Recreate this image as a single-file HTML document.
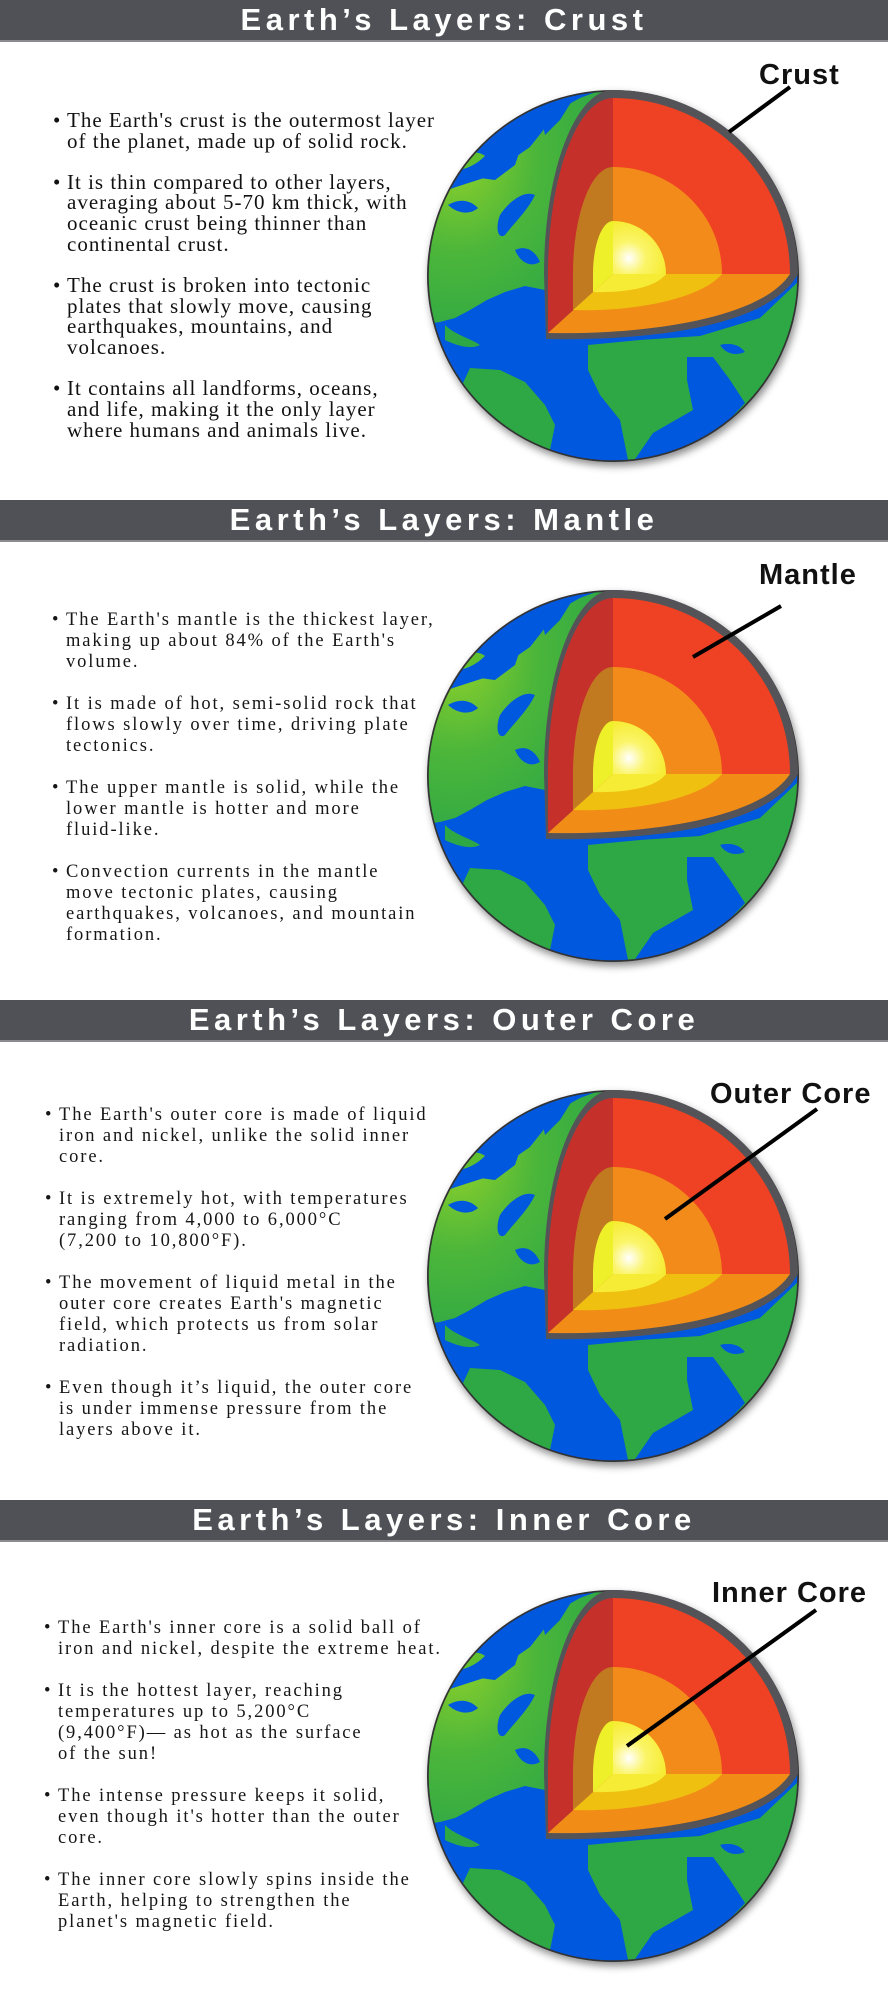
<!DOCTYPE html>
<html><head><meta charset="utf-8">
<style>
*{margin:0;padding:0;box-sizing:border-box}
body{width:888px;height:2000px;background:#fff;position:relative;overflow:hidden;font-family:"Liberation Serif",serif;color:#111}
.sec{position:absolute;left:0;width:888px;height:500px}
.hdr{position:absolute;left:0;top:0;width:888px;height:42px;background:#505156;border-bottom:2px solid #8c8c90;color:#fff;text-align:center;font-family:"Liberation Sans",sans-serif;font-weight:bold;font-size:31px;letter-spacing:4.5px;line-height:40px}
.txt{position:absolute}
.txt p{position:relative;margin-bottom:21px;white-space:nowrap}
.txt .b{position:absolute}
.t1{left:67px;top:110px;font-size:21px;line-height:20.8px;letter-spacing:1px}
.t1 p{margin-bottom:20px}
.t1 .b{left:-14px}
.t2{font-size:18.5px;letter-spacing:1.9px;line-height:21px;color:#161616}
.t2 .b{left:-14px}
.lbl{position:absolute;font-family:"Liberation Sans",sans-serif;font-weight:bold;font-size:29px;letter-spacing:1px;color:#111;line-height:1}
svg.g{position:absolute;left:0;top:0}
</style></head><body>
<svg width="0" height="0" style="position:absolute">
<defs>
<radialGradient id="land" cx="0.2" cy="0.3" r="0.8"><stop offset="0" stop-color="#8fd12a"/><stop offset="0.5" stop-color="#4cb63a"/><stop offset="1" stop-color="#2ea845"/></radialGradient>
<radialGradient id="core" cx="0.3" cy="0.7" r="0.9"><stop offset="0" stop-color="#ffffff"/><stop offset="0.35" stop-color="#fbf56a"/><stop offset="1" stop-color="#f4e81a"/></radialGradient>
<clipPath id="gc"><circle cx="613" cy="276" r="185"/></clipPath>
<filter id="sh" x="-20%" y="-20%" width="140%" height="140%"><feDropShadow dx="2" dy="4" stdDeviation="4" flood-color="#000" flood-opacity="0.45"/></filter>
<g id="globe">
<g filter="url(#sh)">
<circle cx="613" cy="276" r="186" fill="#3a3a3e"/>
</g>
<g clip-path="url(#gc)">
<rect x="420" y="80" width="400" height="400" fill="#0058de"/>
<path d="M420,200 L453,188 L487,177 L507,163 L530,147 L545,128 L555,112 L580,98 L612,86 L612,280 L560,280 L545,290 L525,286 L505,292 L487,300 L470,310 L455,318 L440,322 L420,325 Z" fill="url(#land)"/>
<path d="M540,110 L560,100 L575,96 L560,120 L545,135 Z" fill="#0058de"/>
<path d="M480,178 C495,165 505,160 520,150 L515,165 L495,180 Z" fill="#0058de"/>
<path d="M500,215 C510,200 525,190 535,195 C528,210 515,222 505,235 C498,240 495,228 500,215 Z" fill="#0058de"/>
<path d="M448,205 C460,198 470,200 478,208 C470,215 458,214 448,205 Z" fill="#0058de"/>
<path d="M515,250 C525,245 535,250 540,262 C530,268 520,262 515,250 Z" fill="#0058de"/>
<path d="M470,130 C480,118 495,112 505,118 C498,128 485,140 470,145 Z" fill="#5fbf2e"/>
<path d="M500,105 C510,98 525,96 535,100 C525,110 512,118 500,120 Z" fill="#5fbf2e"/>
<path d="M455,160 C465,152 478,150 485,156 C476,165 465,170 455,170 Z" fill="#5fbf2e"/>
<path d="M470,368 L500,370 L525,382 L545,405 L555,425 L550,450 L535,470 L480,470 L460,440 L455,400 Z" fill="#2ea845"/>
<path d="M445,325 C455,335 470,338 480,345 C470,350 455,345 445,340 Z" fill="#2ea845"/>
<path d="M588,345 L640,340 L700,336 L760,318 L800,280 L810,470 L630,470 L620,420 L600,395 L588,370 Z" fill="#2ea845"/>
<path d="M687,357 L713,357 L730,380 L745,403 L710,440 L673,453 L633,462 L653,433 L693,410 L687,380 Z" fill="#0058de"/>
<path d="M720,345 C730,342 740,345 745,352 C735,356 726,354 720,345 Z" fill="#0058de"/>
</g>
<circle cx="613" cy="276" r="185" fill="none" stroke="#333" stroke-width="1.5"/>
<path d="M613,90 A185,184 0 0 1 798,274 C768,328 645,341 546,339 L544,274 A69,184 0 0 1 613,90 Z" fill="#545458"/>
<path d="M613,274 L613,98 A65,176 0 0 0 548,274 L548,333 Z" fill="#c6302a"/>
<path d="M613,274 L613,167 A40,107 0 0 0 573,274 L573,310 Z" fill="#c27a20"/>
<path d="M613,274 L613,221 A20,53 0 0 0 593,274 L593,292 Z" fill="#eef02a"/>
<path d="M613,274 L790,274 C760,320 640,335 548,333 Z" fill="#f18c17"/>
<path d="M613,274 L722,274 C700,300 630,312 573,310 Z" fill="#f0c011"/>
<path d="M613,274 L666,274 C655,288 625,293 593,292 Z" fill="#f6ec35"/>
<path d="M613,274 L613,98 A177,176 0 0 1 790,274 Z" fill="#ef4123"/>
<path d="M613,274 L613,167 A109,107 0 0 1 722,274 Z" fill="#f28b1a"/>
<path d="M613,274 L613,221 A53,53 0 0 1 666,274 Z" fill="url(#core)"/>
</g>
</defs>
</svg>

<div class="sec" style="top:0">
<svg class="g" width="888" height="500"><use href="#globe"/><line x1="790" y1="87" x2="729" y2="132" stroke="#000" stroke-width="4"/></svg>
<div class="hdr">Earth’s Layers: Crust</div>
<div class="lbl" style="left:759px;top:61px">Crust</div>
<div class="txt t1">
<p><span class="b">•</span>The Earth's crust is the outermost layer<br>of the planet, made up of solid rock.</p>
<p><span class="b">•</span>It is thin compared to other layers,<br>averaging about 5-70 km thick, with<br>oceanic crust being thinner than<br>continental crust.</p>
<p><span class="b">•</span>The crust is broken into tectonic<br>plates that slowly move, causing<br>earthquakes, mountains, and<br>volcanoes.</p>
<p><span class="b">•</span>It contains all landforms, oceans,<br>and life, making it the only layer<br>where humans and animals live.</p>
</div>
</div>

<div class="sec" style="top:500px">
<svg class="g" width="888" height="500"><use href="#globe"/><line x1="781" y1="106" x2="693" y2="157" stroke="#000" stroke-width="4"/></svg>
<div class="hdr">Earth’s Layers: Mantle</div>
<div class="lbl" style="left:759px;top:61px">Mantle</div>
<div class="txt t2" style="left:66px;top:110px">
<p><span class="b">•</span>The Earth's mantle is the thickest layer,<br>making up about 84% of the Earth's<br>volume.</p>
<p><span class="b">•</span>It is made of hot, semi-solid rock that<br>flows slowly over time, driving plate<br>tectonics.</p>
<p><span class="b">•</span>The upper mantle is solid, while the<br>lower mantle is hotter and more<br>fluid-like.</p>
<p><span class="b">•</span>Convection currents in the mantle<br>move tectonic plates, causing<br>earthquakes, volcanoes, and mountain<br>formation.</p>
</div>
</div>

<div class="sec" style="top:1000px">
<svg class="g" width="888" height="500"><use href="#globe"/><line x1="817" y1="109" x2="665" y2="219" stroke="#000" stroke-width="4"/></svg>
<div class="hdr">Earth’s Layers: Outer Core</div>
<div class="lbl" style="left:710px;top:80px">Outer Core</div>
<div class="txt t2" style="left:59px;top:105px">
<p><span class="b">•</span>The Earth's outer core is made of liquid<br>iron and nickel, unlike the solid inner<br>core.</p>
<p><span class="b">•</span>It is extremely hot, with temperatures<br>ranging from 4,000 to 6,000°C<br>(7,200 to 10,800°F).</p>
<p><span class="b">•</span>The movement of liquid metal in the<br>outer core creates Earth's magnetic<br>field, which protects us from solar<br>radiation.</p>
<p><span class="b">•</span>Even though it’s liquid, the outer core<br>is under immense pressure from the<br>layers above it.</p>
</div>
</div>

<div class="sec" style="top:1500px">
<svg class="g" width="888" height="500"><use href="#globe"/><line x1="816" y1="110" x2="627" y2="246" stroke="#000" stroke-width="4"/></svg>
<div class="hdr">Earth’s Layers: Inner Core</div>
<div class="lbl" style="left:712px;top:79px">Inner Core</div>
<div class="txt t2" style="left:58px;top:118px">
<p><span class="b">•</span>The Earth's inner core is a solid ball of<br>iron and nickel, despite the extreme heat.</p>
<p><span class="b">•</span>It is the hottest layer, reaching<br>temperatures up to 5,200°C<br>(9,400°F)— as hot as the surface<br>of the sun!</p>
<p><span class="b">•</span>The intense pressure keeps it solid,<br>even though it's hotter than the outer<br>core.</p>
<p><span class="b">•</span>The inner core slowly spins inside the<br>Earth, helping to strengthen the<br>planet's magnetic field.</p>
</div>
</div>
</body></html>
